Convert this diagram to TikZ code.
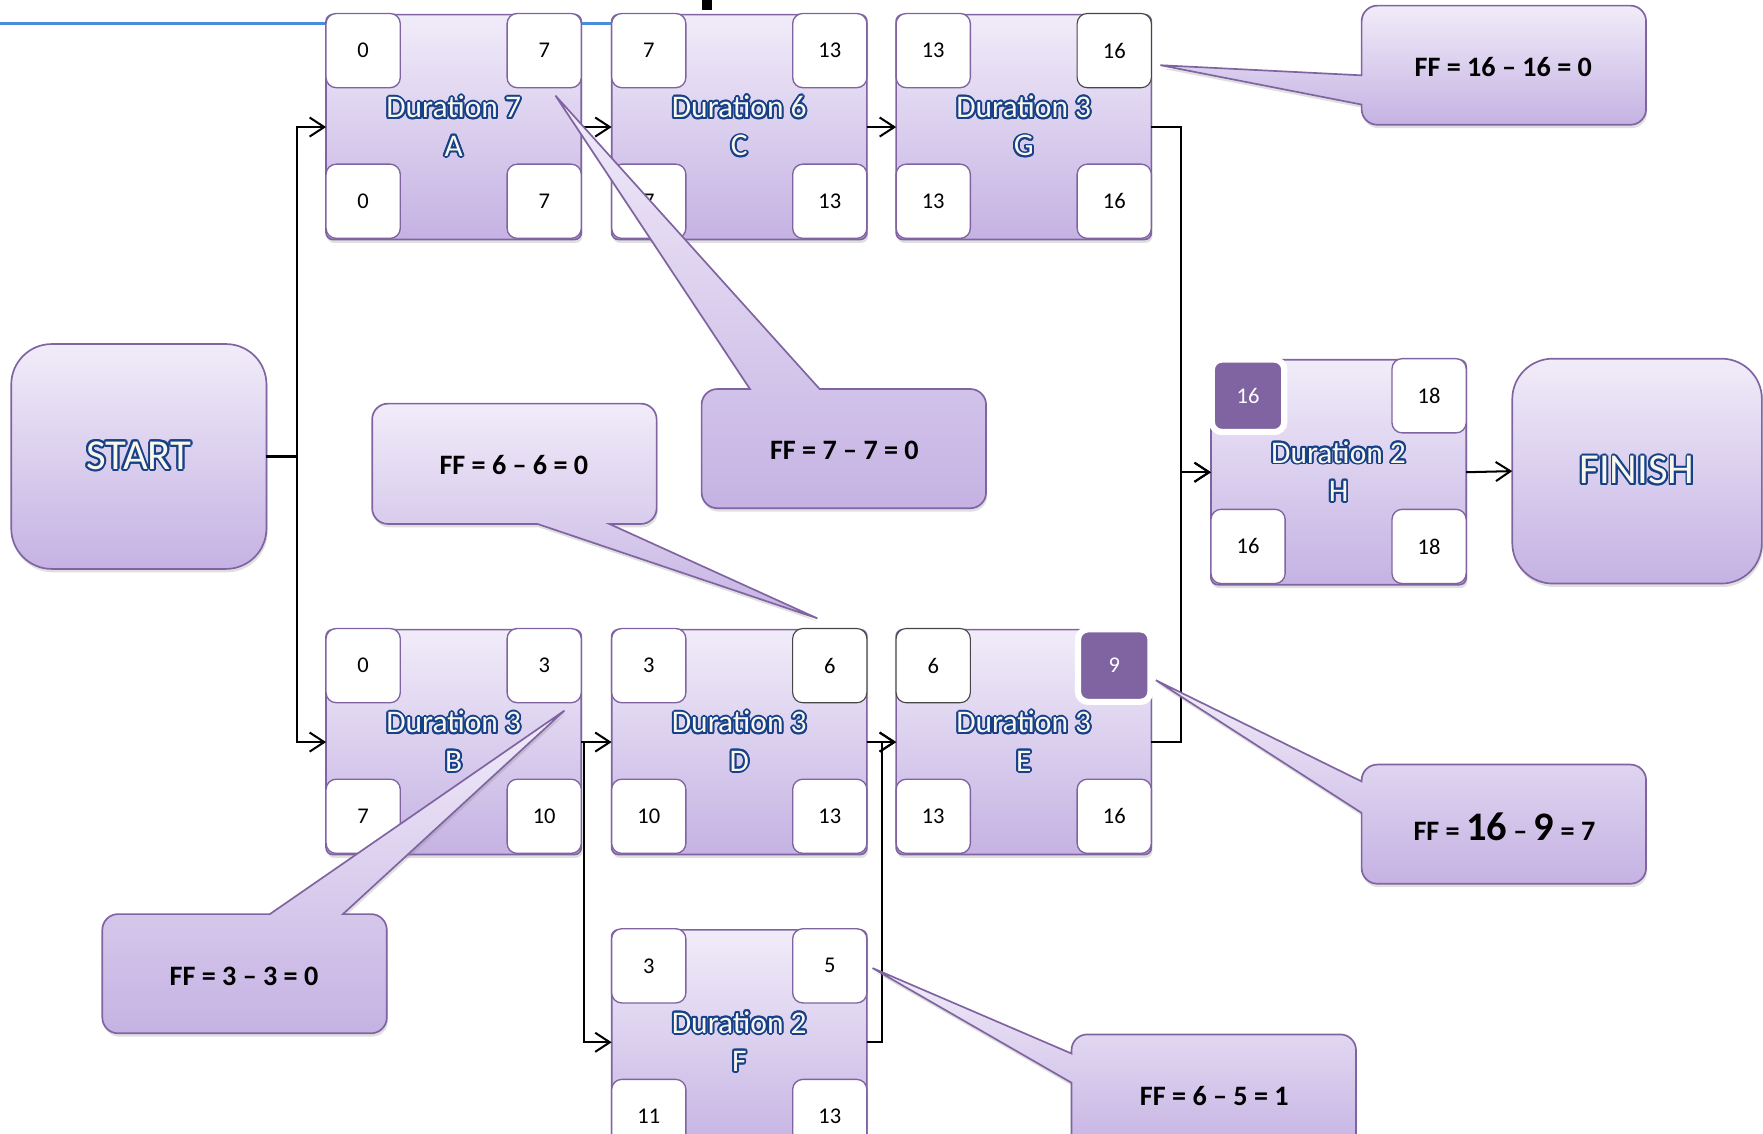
\documentclass[tikz,border=0pt]{standalone}
\usepackage{fontspec}
\setmainfont{Carlito}
\usepackage[copies]{contour}
\usetikzlibrary{arrows.meta,shadows}

\definecolor{boxtop}{RGB}{241,236,249}
\definecolor{boxbot}{RGB}{197,178,227}
\definecolor{boxline}{RGB}{128,100,162}
\definecolor{hotfill}{RGB}{128,100,162}
\definecolor{dimline}{RGB}{70,70,70}
\definecolor{lblline}{RGB}{22,64,136}
\definecolor{lblfill}{RGB}{250,248,236}
\definecolor{pagerule}{RGB}{74,141,220}

\contourlength{1.7pt}

\begin{document}
% y runs downwards, one unit = 1pt
\begin{tikzpicture}[x=1pt,y=-1pt,
  lilac/.style={top color=boxtop, bottom color=boxbot, draw=boxline, line width=1.5pt,
    drop shadow={shadow xshift=1pt, shadow yshift=-3pt, opacity=.25}},
  task/.style={lilac, rounded corners=6pt, minimum width=227pt, minimum height=200pt,
    inner sep=0pt, outer sep=0pt, align=center, text=lblfill, font=\fontsize{28}{34}\selectfont},
  endbox/.style={lilac, rounded corners=36pt, minimum width=227pt, minimum height=200pt,
    outer sep=0pt, text=lblfill, font=\fontsize{38}{40}\selectfont},
  num/.style={draw=boxline, line width=1.2pt, fill=white, rounded corners=9pt,
    minimum size=66pt, inner sep=0pt, font=\fontsize{20}{20}\selectfont},
  hot/.style={fill=hotfill, draw=white, line width=5.5pt, minimum size=64.5pt, text=white},
  dim/.style={draw=dimline, line width=1pt},
  flow/.style={line width=1.8pt, -{Straight Barb[length=13pt,width=17pt]}},
  bubble/.style={lilac},
  ff/.style={font=\fontsize{25}{30}\selectfont\bfseries},
  E-ef/.style={hot}, H-es/.style={hot},
  G-ef/.style={dim}, D-ef/.style={dim}, E-es/.style={dim}]
\useasboundingbox (0,0) rectangle (1568,1008);

% rule and mark along the top edge
\draw[pagerule, line width=3pt] (0,21) -- (544,21);
\fill (624,0) rectangle (633,9);

\node[endbox] (start) at (123.5,406) {\contour{lblline}{START}};
\node[endbox, minimum width=222pt] (finish) at (1456,419) {\contour{lblline}{FINISH}};

% task / duration / ES EF LS LF
\foreach \n/\x/\y/\d/\es/\ef/\ls/\lf in {
  A/403.5/112/7/0/7/0/7,
  C/657.5/112/6/7/13/7/13,
  G/910.5/112/3/13/16/13/16,
  B/403.5/659/3/0/3/7/10,
  D/657.5/659/3/3/6/10/13,
  E/910.5/659/3/6/9/13/16,
  F/657.5/926/2/3/5/11/13,
  H/1190.5/419/2/16/18/16/18}
{
\node[task] (\n) at (\x,\y+1) {\contour{lblline}{Duration \d}\\\contour{lblline}{\n}};
\node[num, \n-es/.try] (\n-es) at ([shift={(-80.5,-68)}]\n.center) {\es};
\node[num, \n-ef/.try] (\n-ef) at ([shift={(80.5,-68)}]\n.center) {\ef};
\node[num, \n-ls/.try] (\n-ls) at ([shift={(-80.5,66)}]\n.center) {\ls};
\node[num, \n-lf/.try] (\n-lf) at ([shift={(80.5,66)}]\n.center) {\lf};
}

\draw[flow] (start.east) -- ++(27,0) |- (A.west);
\draw[flow] (start.east) -- ++(27,0) |- (B.west);
\draw[flow] (A.east) -- (C.west);
\draw[flow] (C.east) -- (G.west);
\draw[flow] (G.east) -- ++(26,0) |- (H.west);
\draw[flow] (E.east) -- ++(26,0) |- (H.west);
\draw[flow] (H.east) -- (finish.west);
\draw[flow] (B.east) -- (D.west);
\draw[flow] (B.east) -- ++(2.5,0) |- (F.west);
\draw[flow] (D.east) -- (E.west);
\draw[flow] (F.east) -- ++(13,0) |- (E.west);

% free float callouts
\path[bubble] (1337,5) [rounded corners=14pt] -- (1464,5) -- (1464,111) -- (1211,111)
  [sharp corners] -- (1211,93) -- (1032,58) -- (1211,67) [rounded corners=14pt] -- (1211,5) -- cycle;
\node[ff] (ff-g) at (1337,60) {FF = 16 – 16 = 0};

\path[bubble] (750,452) [rounded corners=14pt] -- (624,452) -- (624,346)
  [sharp corners] -- (667,346) -- (494,85) -- (729,346) [rounded corners=14pt] -- (877,346) -- (877,452) -- cycle;
\node[ff] (ff-a) at (751,401) {FF = 7 – 7 = 0};

\path[bubble] (457,359) [rounded corners=14pt] -- (584,359) -- (584,466)
  [sharp corners] -- (542,466) -- (727,550) -- (478,466) [rounded corners=14pt] -- (331,466) -- (331,359) -- cycle;
\node[ff] (ff-d) at (457,414) {FF = 6 – 6 = 0};

\path[bubble] (217,919) [rounded corners=14pt] -- (91,919) -- (91,813)
  [sharp corners] -- (240,813) -- (502,632) -- (305,813) [rounded corners=14pt] -- (344,813) -- (344,919) -- cycle;
\node[ff] (ff-b) at (217,868) {FF = 3 – 3 = 0};

\path[bubble] (1337,680) [rounded corners=14pt] -- (1464,680) -- (1464,786) -- (1211,786)
  [sharp corners] -- (1211,723) -- (1028,605) -- (1211,695) [rounded corners=14pt] -- (1211,680) -- cycle;
\node[ff] (ff-e) at (1338,735) {FF = {\fontsize{36}{40}\selectfont 16} – {\fontsize{36}{40}\selectfont 9} = 7};

\path[bubble] (1080,920) [rounded corners=14pt] -- (1206,920) -- (1206,1026) -- (953,1026)
  [sharp corners] -- (953,963) -- (776,861) -- (953,937) [rounded corners=14pt] -- (953,920) -- cycle;
\node[ff] (ff-f) at (1080,975) {FF = 6 – 5 = 1};
\end{tikzpicture}
\end{document}
